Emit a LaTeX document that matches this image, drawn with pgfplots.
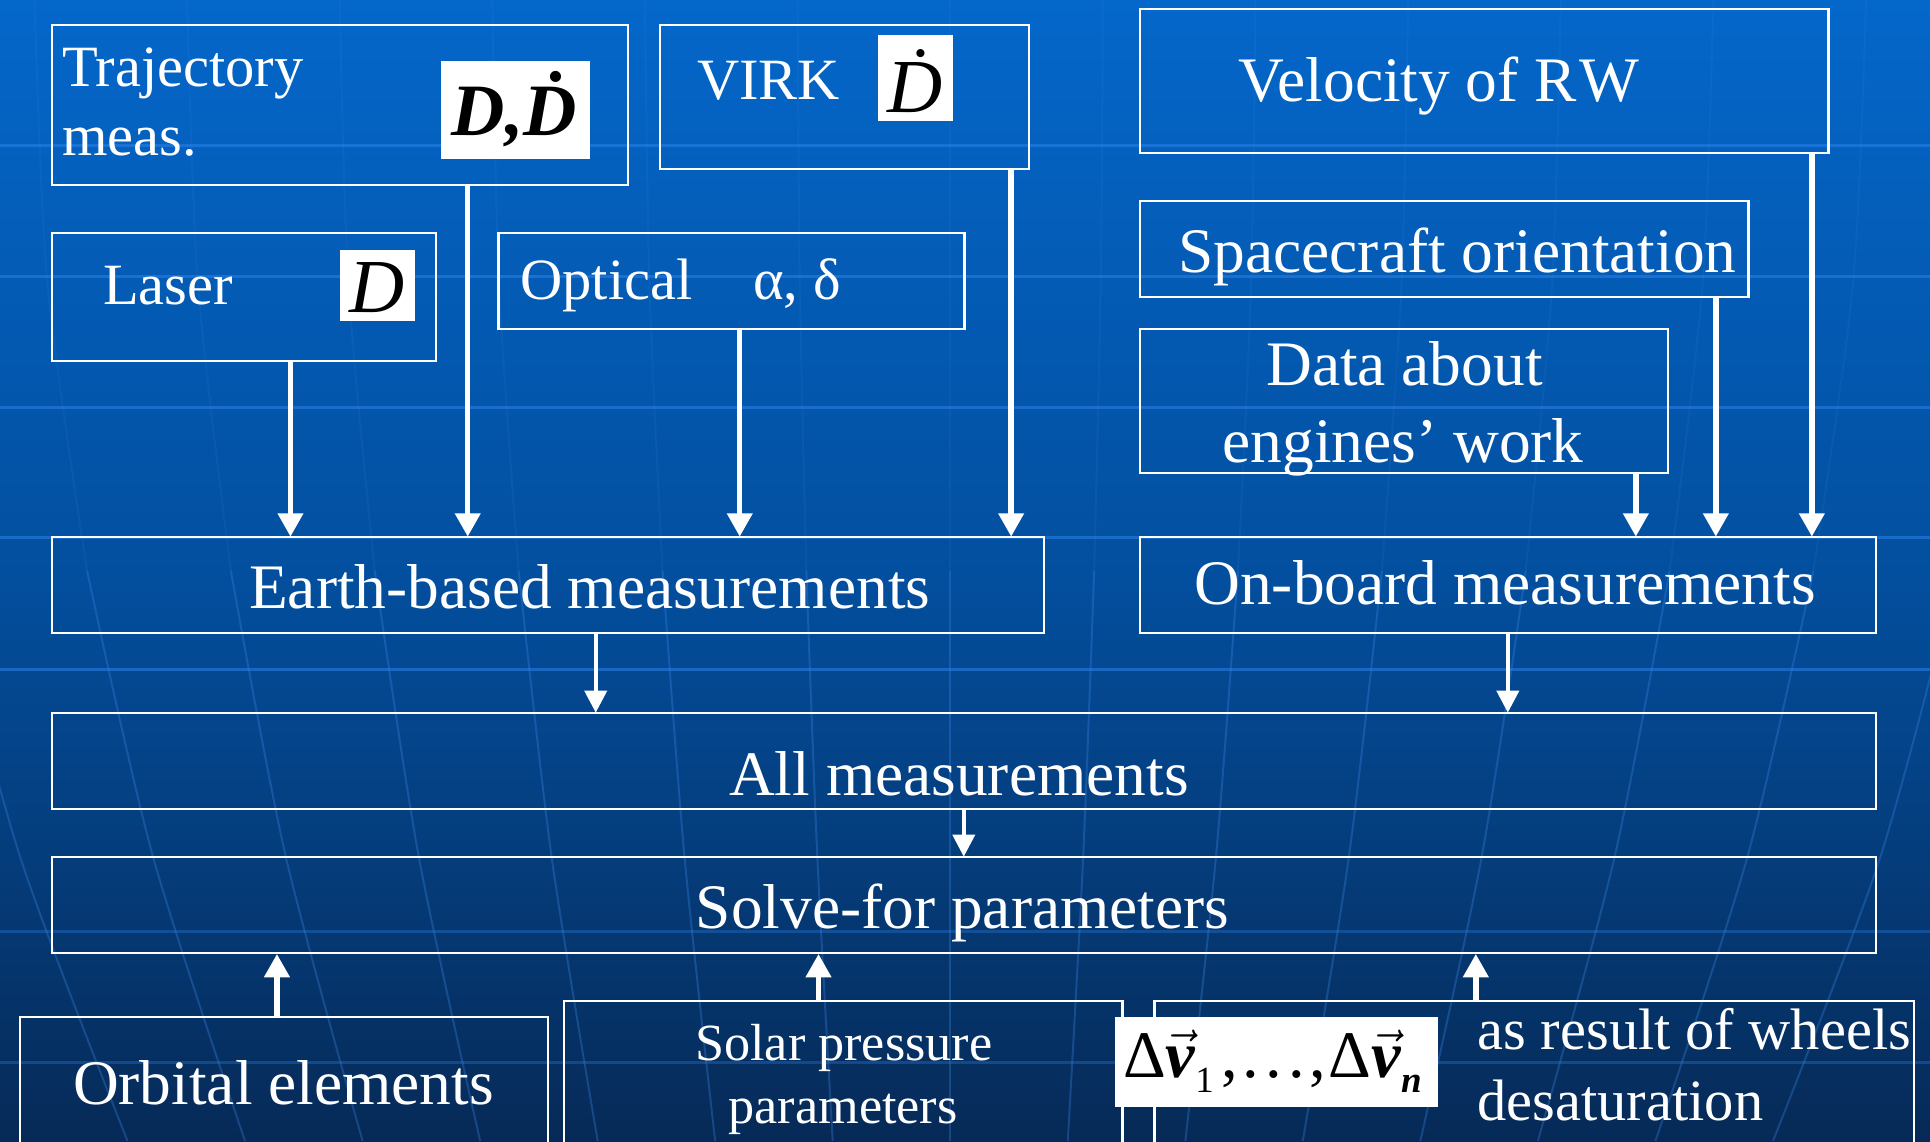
\documentclass[border=0pt]{standalone}
\usepackage{pgfplots}
\pgfplotsset{compat=1.18}
\usetikzlibrary{arrows.meta}
\usepackage{fontspec}
\setmainfont{Liberation Serif}

\definecolor{bgtop}{HTML}{0467CA}
\definecolor{bgmid}{HTML}{034F9F}
\definecolor{bgbot}{HTML}{062A57}
\definecolor{gridl}{HTML}{2F86F0}
\definecolor{merid}{HTML}{3A86E6}

\tikzset{
  boxline/.style={draw=white, line width=0.9bp, line cap=rect, line join=miter, mark=none},
  arr/.style={draw=white, line width=2.2bp, mark=none, -{Triangle[length=9.5bp,width=10bp]}},
  arrs/.style={draw=white, line width=1.6bp, mark=none, -{Triangle[length=9bp,width=9bp]}},
  hl/.style={draw=gridl, opacity=0.5, line width=1.3bp, mark=none},
  hld/.style={draw=gridl, opacity=0.3, line width=1.3bp, mark=none},
  mu/.style={draw=merid, opacity=0.12, line width=0.8bp, mark=none, smooth},
  ml/.style={draw=merid, opacity=0.32, line width=0.8bp, mark=none, smooth},
  txt/.style={text=white, inner sep=0pt, anchor=base west},
  txtc/.style={text=white, inner sep=0pt, anchor=base},
}

\newcommand{\bigf}{\fontsize{25.75bp}{30bp}\selectfont}
\newcommand{\med}{\fontsize{23.75bp}{28bp}\selectfont}
\newcommand{\sml}{\fontsize{21.2bp}{25bp}\selectfont}
\newcommand{\bv}{\ensuremath{\vec{\hbox{\bfseries\itshape v}}}}
\newcommand{\wbox}[4]{\addplot[boxline] coordinates {(#1,#2) (#3,#2) (#3,#4) (#1,#4) (#1,#2)};}
\newcommand{\obox}[3]{\addplot[boxline] coordinates {(#1,940) (#1,#3) (#2,#3) (#2,940)};}
\newcommand{\wfill}[4]{\addplot[fill=white, draw=none, mark=none] coordinates {(#1,#2) (#3,#2) (#3,#4) (#1,#4)};}

\begin{document}
\begin{tikzpicture}
\begin{axis}[
  scale only axis, width=784bp, height=463.5bp,
  xmin=0, xmax=1568, ymin=0, ymax=927, y dir=reverse,
  hide axis, clip=true,
]
% background
\fill[top color=bgtop, bottom color=bgbot, middle color=bgmid] (axis cs:0,0) rectangle (axis cs:1568,927);
% faint horizontal grid
\addplot[hl] coordinates {(0,118) (1568,118)};
\addplot[hl] coordinates {(0,224.5) (1568,224.5)};
\addplot[hl] coordinates {(0,331) (1568,331)};
\addplot[hl] coordinates {(0,437) (1568,437)};
\addplot[hl] coordinates {(0,544) (1568,544)};
\addplot[hld] coordinates {(0,757) (1568,757)};
\addplot[hld] coordinates {(0,863) (1568,863)};
% faint meridians: upper parts
\addplot[mu] coordinates {(772,0) (772,464)};
\addplot[mu] coordinates {(896,0) (894.2,232) (888.9,464)};
\addplot[mu] coordinates {(648,0) (649.8,232) (655.1,464)};
\addplot[mu] coordinates {(1020,0) (1016.4,232) (1005.7,464)};
\addplot[mu] coordinates {(524,0) (527.6,232) (538.3,464)};
\addplot[mu] coordinates {(1144,0) (1138.6,232) (1122.6,464)};
\addplot[mu] coordinates {(400,0) (405.4,232) (421.4,464)};
\addplot[mu] coordinates {(1268,0) (1260.9,232) (1239.5,464)};
\addplot[mu] coordinates {(276,0) (283.1,232) (304.5,464)};
\addplot[mu] coordinates {(1392,0) (1383.1,232) (1356.4,464)};
\addplot[mu] coordinates {(152,0) (160.9,232) (187.6,464)};
\addplot[mu] coordinates {(1516,0) (1505.3,232) (1473.2,464)};
\addplot[mu] coordinates {(28,0) (38.7,232) (70.8,464)};
% faint meridians: lower parts
\addplot[ml] coordinates {(772,464) (772,927)};
\addplot[ml] coordinates {(888.9,464) (880,696) (867.5,927)};
\addplot[ml] coordinates {(655.1,464) (664,696) (676.5,927)};
\addplot[ml] coordinates {(1005.7,464) (987.9,696) (963,927)};
\addplot[ml] coordinates {(538.3,464) (556.1,696) (581,927)};
\addplot[ml] coordinates {(1122.6,464) (1095.9,696) (1058.4,927)};
\addplot[ml] coordinates {(421.4,464) (448.1,696) (485.6,927)};
\addplot[ml] coordinates {(1239.5,464) (1203.8,696) (1153.9,927)};
\addplot[ml] coordinates {(304.5,464) (340.2,696) (390.1,927)};
\addplot[ml] coordinates {(1356.4,464) (1311.8,696) (1249.4,927)};
\addplot[ml] coordinates {(187.6,464) (232.2,696) (294.6,927)};
\addplot[ml] coordinates {(1473.2,464) (1419.7,696) (1344.9,927)};
\addplot[ml] coordinates {(70.8,464) (124.3,696) (199.1,927)};
\addplot[ml] coordinates {(1590.1,464) (1527.7,696) (1440.4,927)};
\addplot[ml] coordinates {(-46.1,464) (16.3,696) (103.6,927)};

% boxes
\wbox{42}{20}{510}{150}
\wbox{536}{20}{836}{137.5}
\wbox{42}{189.5}{354}{293}
\wbox{405}{189.5}{783.5}{267.5}
\wbox{926}{7.5}{1485.5}{124.5}
\wbox{926}{163.3}{1420.5}{241.5}
\wbox{926}{267.3}{1355}{384.5}
\wbox{42}{436}{848}{514.5}
\wbox{926}{436}{1524}{514.5}
\wbox{42}{579.5}{1524}{657.5}
\wbox{42}{696.5}{1524}{774.4}
\obox{16}{445}{826}
\obox{458}{912}{813.2}
\obox{938}{1555}{813.2}

% white math boxes
\wfill{358}{49.6}{479}{129}
\wfill{276}{203}{337}{261}
\wfill{713}{28.4}{774}{98}
\wfill{906}{826}{1168}{899}

% arrows (top)
\addplot[arr] coordinates {(236,293) (236,436)};
\addplot[arr] coordinates {(380,150) (380,436)};
\addplot[arr] coordinates {(601,267.5) (601,436)};
\addplot[arr] coordinates {(821.5,137.5) (821.5,436)};
\addplot[arr] coordinates {(1329,384.5) (1329,436)};
\addplot[arr] coordinates {(1394,241.5) (1394,436)};
\addplot[arr] coordinates {(1472,124.5) (1472,436)};
% arrows (lower)
\addplot[arrs] coordinates {(484,514.5) (484,579)};
\addplot[arrs] coordinates {(1225,514.5) (1225,579)};
\addplot[arrs] coordinates {(783,657.5) (783,696)};
\addplot[arr] coordinates {(225,826) (225,775)};
\addplot[arr] coordinates {(665,813.2) (665,775)};
\addplot[arr] coordinates {(1199,813.2) (1199,775)};

% texts
\node[txt] at (axis cs:50,70) {\med Trajectory};
\node[txt] at (axis cs:50,126.7) {\med meas.};
\node[txtc, text=black] at (axis cs:418,109.7) {\fontsize{30bp}{34bp}\selectfont\bfseries\itshape D,\.{D}};
\node[txt] at (axis cs:83.4,247) {\med Laser};
\node[txtc, text=black] at (axis cs:306,254) {\fontsize{31bp}{35bp}\selectfont\itshape D};
\node[txt] at (axis cs:422.5,243.7) {\med Optical};
\node[txt] at (axis cs:611.5,243.7) {\med α, δ};
\node[txt] at (axis cs:566,81.2) {\med VIRK};
\node[txtc, text=black] at (axis cs:743.5,91.5) {\fontsize{31bp}{35bp}\selectfont\itshape \.{D}};
\node[txt] at (axis cs:1006,82.6) {\bigf Velocity of R\kern1bp W};
\node[txt] at (axis cs:957,221.7) {\bigf Spacecraft orientation};
\node[txtc] at (axis cs:1141,313.4) {\bigf Data about};
\node[txtc] at (axis cs:1140,375.6) {\bigf engines’ work};
\node[txt] at (axis cs:202,494.2) {\bigf Earth-based measurements};
\node[txt] at (axis cs:970,491.5) {\bigf On-board measurements};
\node[txt] at (axis cs:592,645.9) {\bigf All measurements};
\node[txt] at (axis cs:565,754.2) {\bigf Solve-for parameters};
\node[txt] at (axis cs:59,897) {\bigf Orbital elements};
\node[txtc] at (axis cs:685.5,861.2) {\sml Solar pressure};
\node[txtc] at (axis cs:685,912.6) {\sml parameters};
\node[txt, text=black] at (axis cs:912,875.5) {\fontsize{27bp}{31bp}\selectfont Δ\bv\raisebox{-6bp}{\fontsize{15bp}{17bp}\selectfont 1}\kern3bp,\kern2bp.\kern2.5bp.\kern2.5bp.\kern2bp,\kern1bp Δ\bv\raisebox{-6bp}{\fontsize{15bp}{17bp}\selectfont\bfseries\itshape n}};
\node[txt] at (axis cs:1200,853) {\med as result of wheels};
\node[txt] at (axis cs:1200,910) {\med desaturation};
\end{axis}
\end{tikzpicture}
\end{document}
